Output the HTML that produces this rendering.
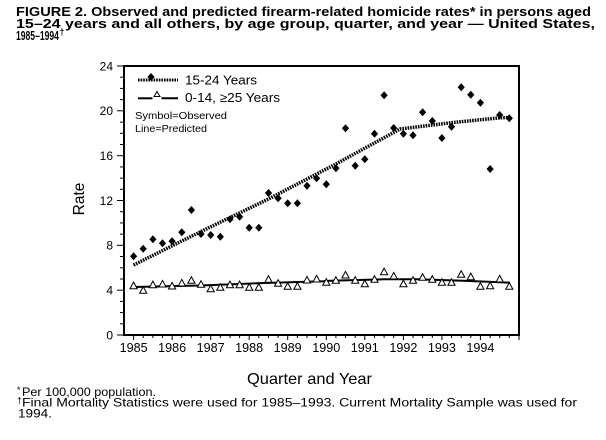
<!DOCTYPE html>
<html>
<head>
<meta charset="utf-8">
<style>
html,body{margin:0;padding:0;background:#fff;}
svg{display:block;}
text{font-family:"Liberation Sans",Arial,sans-serif;fill:#000;}
</style>
</head>
<body>
<svg width="606" height="440" viewBox="0 0 606 440" xmlns="http://www.w3.org/2000/svg">
<defs>
<path id="dm" d="M0,-4 L3.6,0 L0,4 L-3.6,0 Z" fill="#000"/>
<path id="tr" d="M0,-3.6 L3.6,3 L-3.6,3 Z" fill="#fff" stroke="#000" stroke-width="1"/>
</defs>
<rect width="606" height="440" fill="#fff"/>

<!-- Title -->
<text x="16" y="16" font-size="13" font-weight="bold" textLength="575" lengthAdjust="spacingAndGlyphs">FIGURE 2. Observed and predicted firearm-related homicide rates* in persons aged</text>
<text x="16" y="28" font-size="13" font-weight="bold" textLength="579" lengthAdjust="spacingAndGlyphs">15–24 years and all others, by age group, quarter, and year — United States,</text>
<text transform="translate(16,40) scale(0.66,1)" font-size="13" font-weight="bold">1985–1994</text>
<text x="59.5" y="35" font-size="9" font-weight="bold">†</text>

<!-- Plot frame -->
<line x1="124" y1="66" x2="519" y2="66" stroke="#000" stroke-width="2"/>
<line x1="519" y1="65" x2="519" y2="336" stroke="#000" stroke-width="2"/>
<line x1="124" y1="65" x2="124" y2="336" stroke="#000" stroke-width="2"/>
<line x1="123" y1="335" x2="520" y2="335" stroke="#000" stroke-width="2"/>

<!-- Y ticks -->
<g stroke="#000" stroke-width="1">
<line x1="117" y1="335" x2="124" y2="335"/><line x1="120" y1="323.8" x2="124" y2="323.8"/><line x1="120" y1="312.6" x2="124" y2="312.6"/><line x1="120" y1="301.4" x2="124" y2="301.4"/>
<line x1="117" y1="290.2" x2="124" y2="290.2"/><line x1="120" y1="279" x2="124" y2="279"/><line x1="120" y1="267.8" x2="124" y2="267.8"/><line x1="120" y1="256.5" x2="124" y2="256.5"/>
<line x1="117" y1="245.3" x2="124" y2="245.3"/><line x1="120" y1="234.1" x2="124" y2="234.1"/><line x1="120" y1="222.9" x2="124" y2="222.9"/><line x1="120" y1="211.7" x2="124" y2="211.7"/>
<line x1="117" y1="200.5" x2="124" y2="200.5"/><line x1="120" y1="189.3" x2="124" y2="189.3"/><line x1="120" y1="178.1" x2="124" y2="178.1"/><line x1="120" y1="166.9" x2="124" y2="166.9"/>
<line x1="117" y1="155.7" x2="124" y2="155.7"/><line x1="120" y1="144.5" x2="124" y2="144.5"/><line x1="120" y1="133.3" x2="124" y2="133.3"/><line x1="120" y1="122.1" x2="124" y2="122.1"/>
<line x1="117" y1="110.8" x2="124" y2="110.8"/><line x1="120" y1="99.6" x2="124" y2="99.6"/><line x1="120" y1="88.4" x2="124" y2="88.4"/><line x1="120" y1="77.2" x2="124" y2="77.2"/>
<line x1="117" y1="66" x2="124" y2="66"/>
</g>
<g font-size="12" text-anchor="end">
<text x="113" y="339.3">0</text>
<text x="113" y="294.5">4</text>
<text x="113" y="249.6">8</text>
<text x="113" y="204.8">12</text>
<text x="113" y="160">16</text>
<text x="113" y="115.1">20</text>
<text x="113" y="70.3">24</text>
</g>

<!-- X ticks -->
<g stroke="#000" stroke-width="1">
<line x1="133.6" y1="335" x2="133.6" y2="340"/><line x1="143.2" y1="335" x2="143.2" y2="338"/><line x1="152.9" y1="335" x2="152.9" y2="338"/><line x1="162.5" y1="335" x2="162.5" y2="338"/>
<line x1="172.1" y1="335" x2="172.1" y2="340"/><line x1="181.8" y1="335" x2="181.8" y2="338"/><line x1="191.4" y1="335" x2="191.4" y2="338"/><line x1="201" y1="335" x2="201" y2="338"/>
<line x1="210.7" y1="335" x2="210.7" y2="340"/><line x1="220.3" y1="335" x2="220.3" y2="338"/><line x1="230" y1="335" x2="230" y2="338"/><line x1="239.6" y1="335" x2="239.6" y2="338"/>
<line x1="249.2" y1="335" x2="249.2" y2="340"/><line x1="258.8" y1="335" x2="258.8" y2="338"/><line x1="268.5" y1="335" x2="268.5" y2="338"/><line x1="278.1" y1="335" x2="278.1" y2="338"/>
<line x1="287.7" y1="335" x2="287.7" y2="340"/><line x1="297.4" y1="335" x2="297.4" y2="338"/><line x1="307" y1="335" x2="307" y2="338"/><line x1="316.6" y1="335" x2="316.6" y2="338"/>
<line x1="326.3" y1="335" x2="326.3" y2="340"/><line x1="335.9" y1="335" x2="335.9" y2="338"/><line x1="345.5" y1="335" x2="345.5" y2="338"/><line x1="355.2" y1="335" x2="355.2" y2="338"/>
<line x1="364.8" y1="335" x2="364.8" y2="340"/><line x1="374.5" y1="335" x2="374.5" y2="338"/><line x1="384.1" y1="335" x2="384.1" y2="338"/><line x1="393.7" y1="335" x2="393.7" y2="338"/>
<line x1="403.4" y1="335" x2="403.4" y2="340"/><line x1="413" y1="335" x2="413" y2="338"/><line x1="422.6" y1="335" x2="422.6" y2="338"/><line x1="432.3" y1="335" x2="432.3" y2="338"/>
<line x1="441.9" y1="335" x2="441.9" y2="340"/><line x1="451.5" y1="335" x2="451.5" y2="338"/><line x1="461.2" y1="335" x2="461.2" y2="338"/><line x1="470.8" y1="335" x2="470.8" y2="338"/>
<line x1="480.4" y1="335" x2="480.4" y2="340"/><line x1="490.1" y1="335" x2="490.1" y2="338"/><line x1="499.7" y1="335" x2="499.7" y2="338"/><line x1="509.3" y1="335" x2="509.3" y2="338"/>
<line x1="519" y1="335" x2="519" y2="340"/>
</g>
<g font-size="12.5" text-anchor="middle">
<text x="133.6" y="352" textLength="28" lengthAdjust="spacingAndGlyphs">1985</text>
<text x="172.1" y="352" textLength="28" lengthAdjust="spacingAndGlyphs">1986</text>
<text x="210.7" y="352" textLength="28" lengthAdjust="spacingAndGlyphs">1987</text>
<text x="249.2" y="352" textLength="28" lengthAdjust="spacingAndGlyphs">1988</text>
<text x="287.7" y="352" textLength="28" lengthAdjust="spacingAndGlyphs">1989</text>
<text x="326.3" y="352" textLength="28" lengthAdjust="spacingAndGlyphs">1990</text>
<text x="364.8" y="352" textLength="28" lengthAdjust="spacingAndGlyphs">1991</text>
<text x="403.4" y="352" textLength="28" lengthAdjust="spacingAndGlyphs">1992</text>
<text x="441.9" y="352" textLength="28" lengthAdjust="spacingAndGlyphs">1993</text>
<text x="480.4" y="352" textLength="28" lengthAdjust="spacingAndGlyphs">1994</text>
</g>

<!-- Axis titles -->
<text transform="translate(84,199) rotate(-90)" font-size="15.5" text-anchor="middle">Rate</text>
<text x="247" y="384" font-size="16" textLength="125" lengthAdjust="spacingAndGlyphs">Quarter and Year</text>

<!-- Predicted lines -->
<polyline fill="none" stroke="#000" stroke-width="3.5" stroke-dasharray="1.6 1" points="133.6,265 200,232 268.5,199 335.9,164 400,129 453,122.5 500,117.8 509.3,117.5"/>
<polyline fill="none" stroke="#000" stroke-width="2" points="133.6,287 200,285.5 256.7,283.3 323.3,281.3 330,280.7 383.3,279.3 416.7,279.3 463.3,280.7 510,282.7"/>

<!-- Observed 15-24 -->
<g>
<use href="#dm" x="133.6" y="256.3"/><use href="#dm" x="143.2" y="248.7"/><use href="#dm" x="152.9" y="239.3"/><use href="#dm" x="162.5" y="243.3"/>
<use href="#dm" x="172.1" y="241.3"/><use href="#dm" x="181.8" y="232.3"/><use href="#dm" x="191.4" y="210"/><use href="#dm" x="201" y="234"/>
<use href="#dm" x="210.7" y="235"/><use href="#dm" x="220.3" y="236.7"/><use href="#dm" x="230" y="219.3"/><use href="#dm" x="239.6" y="216.7"/>
<use href="#dm" x="249.2" y="227.7"/><use href="#dm" x="258.8" y="227.7"/><use href="#dm" x="268.5" y="193"/><use href="#dm" x="278.1" y="198.3"/>
<use href="#dm" x="287.7" y="203.3"/><use href="#dm" x="297.4" y="203.3"/><use href="#dm" x="307" y="185.7"/><use href="#dm" x="316.6" y="178.3"/>
<use href="#dm" x="326.3" y="184.3"/><use href="#dm" x="335.9" y="168.3"/><use href="#dm" x="345.5" y="128.3"/><use href="#dm" x="355.2" y="165.7"/>
<use href="#dm" x="364.8" y="159.3"/><use href="#dm" x="374.5" y="133.7"/><use href="#dm" x="384.1" y="95.3"/><use href="#dm" x="393.7" y="128"/>
<use href="#dm" x="403.4" y="133.7"/><use href="#dm" x="413" y="135.3"/><use href="#dm" x="422.6" y="112.3"/><use href="#dm" x="432.3" y="121"/>
<use href="#dm" x="441.9" y="138"/><use href="#dm" x="451.5" y="126.7"/><use href="#dm" x="461.2" y="87.3"/><use href="#dm" x="470.8" y="94.7"/>
<use href="#dm" x="480.4" y="102.7"/><use href="#dm" x="490.1" y="169"/><use href="#dm" x="499.7" y="115"/><use href="#dm" x="509.3" y="118.3"/>
</g>

<!-- Observed others -->
<g>
<use href="#tr" x="133.6" y="285.7"/><use href="#tr" x="143.2" y="290.3"/><use href="#tr" x="152.9" y="284.7"/><use href="#tr" x="162.5" y="284"/>
<use href="#tr" x="172.1" y="286"/><use href="#tr" x="181.8" y="283"/><use href="#tr" x="191.4" y="280.3"/><use href="#tr" x="201" y="284.3"/>
<use href="#tr" x="210.7" y="288.7"/><use href="#tr" x="220.3" y="287.3"/><use href="#tr" x="230" y="284.7"/><use href="#tr" x="239.6" y="284.7"/>
<use href="#tr" x="249.2" y="287.3"/><use href="#tr" x="258.8" y="287.3"/><use href="#tr" x="268.5" y="279.3"/><use href="#tr" x="278.1" y="283.3"/>
<use href="#tr" x="287.7" y="286.3"/><use href="#tr" x="297.4" y="286.3"/><use href="#tr" x="307" y="280"/><use href="#tr" x="316.6" y="279"/>
<use href="#tr" x="326.3" y="282.3"/><use href="#tr" x="335.9" y="280.3"/><use href="#tr" x="345.5" y="275"/><use href="#tr" x="355.2" y="280.3"/>
<use href="#tr" x="364.8" y="283.7"/><use href="#tr" x="374.5" y="279.3"/><use href="#tr" x="384.1" y="271.7"/><use href="#tr" x="393.7" y="276"/>
<use href="#tr" x="403.4" y="283.7"/><use href="#tr" x="413" y="280.3"/><use href="#tr" x="422.6" y="277.3"/><use href="#tr" x="432.3" y="279.3"/>
<use href="#tr" x="441.9" y="282.3"/><use href="#tr" x="451.5" y="282.3"/><use href="#tr" x="461.2" y="274.3"/><use href="#tr" x="470.8" y="276.7"/>
<use href="#tr" x="480.4" y="286.3"/><use href="#tr" x="490.1" y="285.7"/><use href="#tr" x="499.7" y="279"/><use href="#tr" x="509.3" y="286.3"/>
</g>

<!-- Legend -->
<line x1="138" y1="80" x2="178" y2="80" stroke="#000" stroke-width="3" stroke-dasharray="1.6 1"/>
<use href="#dm" x="151" y="77"/>
<text x="185" y="84.5" font-size="13" textLength="72" lengthAdjust="spacingAndGlyphs">15-24 Years</text>
<line x1="138" y1="98.3" x2="152.5" y2="98.3" stroke="#000" stroke-width="2"/>
<line x1="161.5" y1="98.3" x2="178" y2="98.3" stroke="#000" stroke-width="2"/>
<path d="M157,91.5 L160,96.5 L154,96.5 Z" fill="#fff" stroke="#000" stroke-width="1"/>
<text x="185" y="102" font-size="13" textLength="95" lengthAdjust="spacingAndGlyphs">0-14, ≥25 Years</text>
<text x="135" y="119" font-size="10.5" textLength="92" lengthAdjust="spacingAndGlyphs">Symbol=Observed</text>
<text x="135" y="132" font-size="10.5" textLength="72" lengthAdjust="spacingAndGlyphs">Line=Predicted</text>

<!-- Footnotes -->
<text x="17" y="393" font-size="9">*</text>
<text x="22" y="396" font-size="12" textLength="134" lengthAdjust="spacingAndGlyphs">Per 100,000 population.</text>
<text x="17" y="403.5" font-size="9">†</text>
<text x="22" y="406.7" font-size="12" textLength="555" lengthAdjust="spacingAndGlyphs">Final Mortality Statistics were used for 1985–1993. Current Mortality Sample was used for</text>
<text x="18" y="417.3" font-size="12" textLength="34" lengthAdjust="spacingAndGlyphs">1994.</text>
</svg>
</body>
</html>
